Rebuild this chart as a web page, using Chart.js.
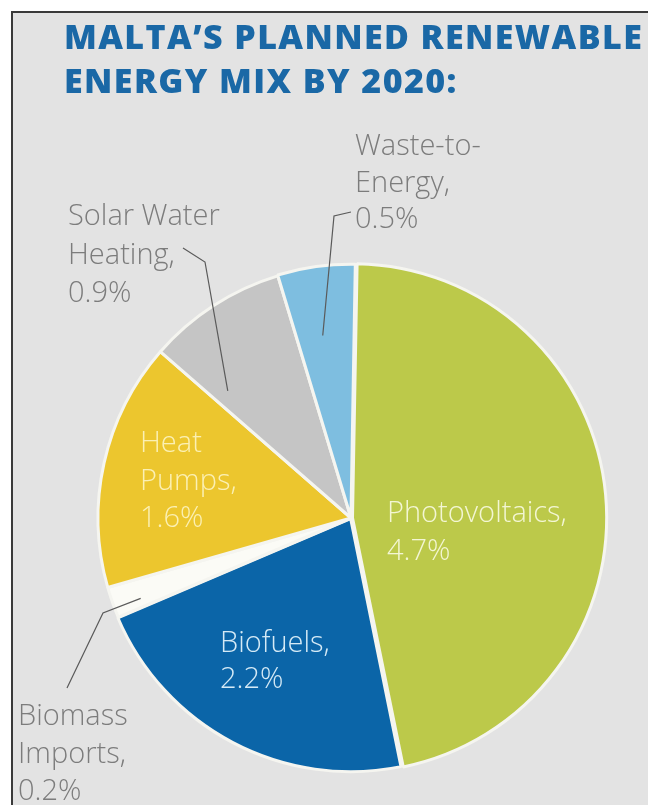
<!DOCTYPE html>
<html>
<head>
<meta charset="utf-8">
<script src="https://cdn.jsdelivr.net/npm/chart.js@4.4.1/dist/chart.umd.min.js"></script>
<style>
  html, body { margin: 0; padding: 0; background: #fff; }
  canvas { display: block; }
</style>
</head>
<body>
<canvas id="mix" width="648" height="805"></canvas>
<script>
// Planned renewable energy mix (share of final energy, %)
const categories = ['Photovoltaics', 'Biofuels', 'Biomass Imports', 'Heat Pumps', 'Solar Water Heating', 'Waste-to-Energy'];
const shares = [4.7, 2.2, 0.2, 1.6, 0.9, 0.5];
const nameLines = [['Photovoltaics,'], ['Biofuels,'], ['Biomass', 'Imports,'], ['Heat', 'Pumps,'], ['Solar Water', 'Heating,'], ['Waste-to-', 'Energy,']];
const sliceColors = ['#bcc94a', '#0b65a8', '#fbfbf6', '#ecc62e', '#c5c5c5', '#7ebee0'];
const titleLines = ['MALTA\u2019S PLANNED RENEWABLE', 'ENERGY MIX BY 2020:'];

// Label placement: left edge, first baseline, line height, colour.
// Outside labels carry a leader line ending inside their slice (t = fraction of the
// slice's angle, f = fraction of the radius).
const labelLayout = [
  { x: 387, y: 522, lh: 38,   color: '#f3f6d4' },
  { x: 220, y: 652, lh: 36,   color: '#d5eaf6' },
  { x: 18,  y: 725, lh: 37.5, color: '#7c7c7c', leader: [[67, 688], [103, 613]], t: 0.3, f: 0.89 },
  { x: 140, y: 452, lh: 37.5, color: '#fbf0b4' },
  { x: 68,  y: 225, lh: 38.5, color: '#7c7c7c', leader: [[183, 248], [205, 262]], t: 0.15, f: 0.70 },
  { x: 355, y: 155, lh: 36.5, color: '#7c7c7c', leader: [[351, 212], [334, 216]], t: 0.45, f: 0.73 }
];

const panel = {
  id: 'panel',
  beforeDraw(chart) {
    const { ctx, width, height } = chart;
    ctx.save();
    ctx.fillStyle = '#ffffff';
    ctx.fillRect(0, 0, width, height);
    ctx.fillStyle = '#e3e3e3';
    ctx.fillRect(12, 12, width - 12, height - 12);
    ctx.fillStyle = '#3a3a3a';
    ctx.fillRect(11, 11, width - 11, 2);
    ctx.fillRect(11, 11, 2, height - 11);
    // heading
    ctx.fillStyle = '#1a68a6';
    ctx.font = '800 34px "Open Sans"';
    ctx.letterSpacing = '1.4px';
    ctx.textBaseline = 'alphabetic';
    ctx.fillText(titleLines[0], 64, 49);
    ctx.fillText(titleLines[1], 64, 93);
    ctx.restore();
  }
};

function pointInSlice(arc, t, f) {
  const p = arc.getProps(['x', 'y', 'startAngle', 'endAngle', 'outerRadius'], true);
  const a = p.startAngle + (p.endAngle - p.startAngle) * t;
  const r = p.outerRadius * f;
  return [p.x + Math.cos(a) * r, p.y + Math.sin(a) * r];
}

const sliceLabels = {
  id: 'sliceLabels',
  afterDatasetsDraw(chart) {
    const ctx = chart.ctx;
    const arcs = chart.getDatasetMeta(0).data;
    ctx.save();
    ctx.textBaseline = 'alphabetic';
    ctx.textAlign = 'left';
    ctx.font = '300 29px "Open Sans"';
    labelLayout.forEach((lay, i) => {
      if (lay.leader) {
        const end = pointInSlice(arcs[i], lay.t, lay.f);
        ctx.beginPath();
        ctx.strokeStyle = '#5a5a5a';
        ctx.lineWidth = 1.2;
        ctx.moveTo(lay.leader[0][0], lay.leader[0][1]);
        for (let k = 1; k < lay.leader.length; k++) ctx.lineTo(lay.leader[k][0], lay.leader[k][1]);
        ctx.lineTo(end[0], end[1]);
        ctx.stroke();
      }
      const lines = nameLines[i].concat([shares[i].toFixed(1) + '%']);
      ctx.fillStyle = lay.color;
      lines.forEach((s, j) => ctx.fillText(s, lay.x, lay.y + j * lay.lh));
    });
    ctx.restore();
  }
};

new Chart(document.getElementById('mix'), {
  type: 'pie',
  data: {
    labels: categories,
    datasets: [{
      data: shares,
      backgroundColor: sliceColors,
      borderColor: '#f5f5f0',
      borderWidth: 3,
      offset: [6, 3, 0, 0, 0, 2],
      clip: false
    }]
  },
  options: {
    responsive: false,
    devicePixelRatio: 1,
    animation: false,
    rotation: 1,
    radius: 253,
    layout: { padding: { left: 61, right: 7, top: 238, bottom: 7 } },
    plugins: {
      legend: { display: false },
      tooltip: { enabled: false },
      title: { display: false }
    }
  },
  plugins: [panel, sliceLabels]
});
</script>
</body>
</html>
